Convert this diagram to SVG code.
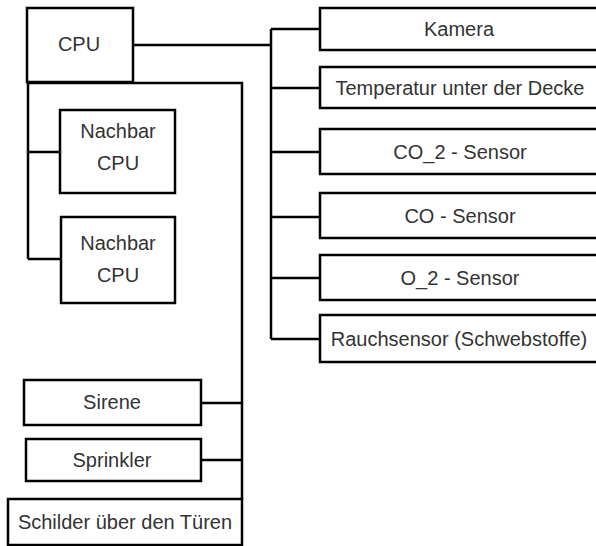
<svg xmlns="http://www.w3.org/2000/svg" width="596" height="546" viewBox="0 0 596 546">
<style>
.box{fill:#fff;stroke:#000;stroke-width:2.5}
.ln{fill:none;stroke:#000;stroke-width:2.5}
text{font-family:"Liberation Sans",Arial,sans-serif;font-size:20px;fill:#333;text-anchor:middle}
</style>
<rect width="596" height="546" fill="#fff"/>
<g id="connectors">
<path class="ln" d="M133 45H271M271 29V339M271 29H320M271 88H320M271 152H320M271 217H320M271 278H320M271 339H320"/>
<path class="ln" d="M28 82V259M28 152H60M28 259H61M28 83H242V499M201 403H242M201 460H242"/>
</g>
<g id="cpu"><rect class="box" x="27" y="8" width="106" height="74"/><text x="79" y="51">CPU</text></g>
<g id="nachbar1"><rect class="box" x="60" y="110" width="115" height="83"/><text x="118" y="138">Nachbar</text><text x="118" y="170">CPU</text></g>
<g id="nachbar2"><rect class="box" x="61" y="217" width="114" height="86"/><text x="118" y="250">Nachbar</text><text x="118" y="282">CPU</text></g>
<g id="kamera"><rect class="box" x="320" y="8" width="290" height="42"/><text x="459" y="36">Kamera</text></g>
<g id="temperatur"><rect class="box" x="320" y="67" width="290" height="41"/><text x="460" y="95">Temperatur unter der Decke</text></g>
<g id="co2"><rect class="box" x="320" y="129" width="290" height="45"/><text x="460" y="159">CO_2 - Sensor</text></g>
<g id="co"><rect class="box" x="320" y="193" width="290" height="45"/><text x="460" y="223">CO - Sensor</text></g>
<g id="o2"><rect class="box" x="320" y="255" width="290" height="45"/><text x="460" y="285">O_2 - Sensor</text></g>
<g id="rauch"><rect class="box" x="320" y="315" width="290" height="47"/><text x="459" y="346">Rauchsensor (Schwebstoffe)</text></g>
<g id="sirene"><rect class="box" x="24" y="380" width="177" height="45"/><text x="112" y="409">Sirene</text></g>
<g id="sprinkler"><rect class="box" x="26" y="439" width="175" height="42"/><text x="112" y="467">Sprinkler</text></g>
<g id="schilder"><rect class="box" x="8" y="499" width="234" height="46"/><text x="125" y="529">Schilder über den Türen</text></g>
</svg>
